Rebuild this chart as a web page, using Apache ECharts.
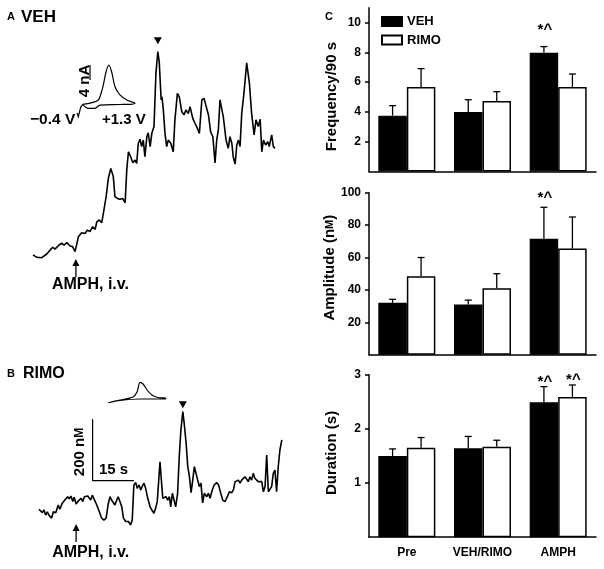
<!DOCTYPE html>
<html><head><meta charset="utf-8">
<script src="https://cdn.jsdelivr.net/npm/echarts@6/dist/echarts.min.js"></script>
<style>html,body{margin:0;padding:0;background:#fff}#c{width:604px;height:569px}</style>
</head><body><div id="c"></div>
<script>
// ---------- DATA ----------
const categories = ['Pre', 'VEH/RIMO', 'AMPH'];
const freqTicks = [2, 4, 6, 8, 10];
const ampTicks = [20, 40, 60, 80, 100];
const durTicks = [1, 2, 3];
const freqVEH = [3.75, 4.0, 7.98], freqVEHsem = [0.67, 0.82, 0.41];
const freqRIMO = [5.68, 4.74, 5.68], freqRIMOsem = [1.23, 0.62, 0.87];
const ampVEH = [32, 31, 71.5], ampVEHsem = [2.2, 2.7, 19.5];
const ampRIMO = [48.5, 41, 65.5], ampRIMOsem = [11.5, 9, 19.5];
const durVEH = [1.5, 1.64, 2.49], durVEHsem = [0.13, 0.22, 0.29];
const durRIMO = [1.65, 1.67, 2.59], durRIMOsem = [0.19, 0.12, 0.22];
const freqSigVEH = ['', '', '*^'], freqSigRIMO = ['', '', ''];
const ampSigVEH = ['', '', '*^'], ampSigRIMO = ['', '', ''];
const durSigVEH = ['', '', '*^'], durSigRIMO = ['', '', '*^'];

// DA traces: [time (s), concentration (nM)]
const traceVEH = [[0,10],[1.4,2],[3.2,1],[5,13],[6.4,28],[7.2,35],[8,29],[9.2,40],[10.4,48],[11.3,42],[12.3,50],[13.5,39],[14.4,37],[15.3,21],[15.6,15],[16.5,69],[17.7,82],[18.9,80],[19.8,91],[20.7,86],[21.7,102],[22.6,93],[23.2,118],[24.1,124],[25,115],[25.6,146],[26.6,200],[27.4,260],[28.3,292],[29.2,265],[29.8,200],[30.7,194],[31.6,191],[32.6,194],[33.5,180],[34.1,287],[34.7,346],[35.5,330],[36.3,310],[37.1,319],[37.7,308],[38.3,374],[38.9,387],[39.5,363],[40.1,384],[40.7,330],[41.4,395],[41.9,408],[42.6,363],[43.2,406],[44,428],[44.7,602],[45.4,672],[45.9,639],[46.6,515],[46.9,525],[47.4,482],[48,406],[48.6,363],[49.2,384],[50.1,374],[51,346],[51.6,449],[52.5,536],[53.2,525],[54.1,477],[54.9,466],[55.6,482],[56.5,471],[57.1,493],[58.1,455],[58.9,439],[59.8,422],[60.5,406],[61.4,515],[62.2,520],[62.9,515],[63.8,466],[64.6,411],[65.4,395],[66.2,310],[66.8,384],[67.4,417],[68,515],[68.6,520],[69.2,460],[70.2,384],[71,357],[71.6,395],[72.3,374],[72.8,330],[73.5,306],[74.1,368],[74.7,384],[75.3,363],[75.9,471],[76.7,536],[77.7,636],[78.7,569],[79.5,471],[80.4,401],[81.1,450],[81.9,428],[82.6,452],[83.2,346],[83.8,384],[84.6,368],[85.4,379],[85.9,363],[86.8,401],[87.4,363],[88,357]];
const traceRIMO = [[0,61],[0.6,56],[1.2,50],[1.8,59],[2.4,42],[3,53],[3.6,42],[4.3,48],[4.6,32],[5.2,53],[6.1,50],[7,75],[7.6,61],[8.4,80],[9.1,88],[9.7,82],[10.4,102],[11,95],[11.6,104],[12.3,86],[12.8,100],[13.5,78],[14.1,86],[14.7,80],[15.3,97],[15.9,86],[16.5,102],[17.1,97],[17.7,104],[18.3,107],[18.8,91],[19.4,107],[20.1,102],[21,75],[21.8,56],[22.8,32],[23.6,26],[24.4,32],[25.2,80],[25.8,102],[26.4,91],[27,86],[27.6,75],[28.3,91],[28.8,102],[29.5,107],[30.1,69],[30.7,32],[31.5,21],[32.5,21],[33.3,10],[33.9,26],[34.5,140],[35.2,148],[35.7,129],[36.4,140],[37,124],[37.6,137],[38.2,146],[38.8,129],[39.4,102],[40.4,69],[41.2,56],[41.8,48],[42.4,64],[43,86],[43.6,91],[44,216],[44.5,156],[45,97],[45.6,91],[46.2,102],[46.8,91],[47.4,102],[47.9,69],[48.5,113],[49.1,91],[49.7,69],[50.4,113],[51,232],[51.6,319],[52.3,379],[52.8,341],[53.5,276],[54.1,200],[54.7,167],[55.3,115],[55.9,156],[56.5,200],[57.1,200],[57.7,156],[58.3,135],[58.9,146],[59.5,82],[60.1,113],[61,102],[61.6,113],[62.2,97],[63,124],[63.7,140],[64.6,148],[65.3,140],[66.1,113],[66.8,91],[67.6,86],[68.5,102],[69.2,118],[70.1,115],[70.7,124],[71.3,151],[71.9,146],[72.5,156],[73.1,146],[73.7,156],[74.3,151],[74.9,167],[75.5,162],[76.1,151],[76.7,167],[77.3,156],[77.9,178],[78.5,162],[79.2,167],[79.7,151],[80.4,156],[81,151],[81.6,118],[82.2,135],[82.8,238],[83.4,118],[84,118],[84.6,135],[85.2,178],[85.8,189],[86.4,118],[87,200],[87.6,254],[88.3,287]];
// cyclic voltammograms (inset): [potential (V), current (nA)]
const cvVEH = [[-0.4,0],[-0.23,0.2],[-0.07,0.5],[0.11,1.15],[0.19,2.75],[0.27,5.15],[0.36,8.7],[0.45,10.5],[0.54,8.7],[0.65,4.7],[0.81,2.5],[1.03,1.15],[1.3,0.27],[1.14,0],[0.81,-0.05],[0.16,-0.2],[0.0,-1.07],[-0.22,-1.07],[-0.4,0]];
const cvRIMO = [[-0.4,-1.0],[-0.05,-0.27],[0.33,0.53],[0.45,1.87],[0.54,4.46],[0.63,4.0],[0.75,2.4],[0.89,1.07],[1.07,0.4],[1.3,0.27],[1.3,0],[0.54,0],[-0.05,-0.4],[-0.4,-1.0]];
const amphTimeVEH = 15.6, amphTimeRIMO = 13.5;
const SCALE_T = 15, SCALE_C = 200, scaleT0 = 19.5, scaleC0 = 154;

// ---------- CHART ----------
const FF = 'Liberation Sans, Arial, sans-serif';
const BAR_W = 28.5;
const chart = echarts.init(document.getElementById('c'), null, {renderer: 'canvas'});

function errRender(means, sems, sigs, side, gap) {
  return function (params, api) {
    const i = params.dataIndex;
    const c0 = api.coord([i, means[i]]);
    const c1 = api.coord([i, means[i] + sems[i]]);
    const x = c0[0] + side * BAR_W / 2;
    const st = {stroke: '#000', lineWidth: 1.3};
    const ch = [
      {type: 'line', shape: {x1: x, y1: c0[1], x2: x, y2: c1[1]}, style: st},
      {type: 'line', shape: {x1: x - 3.5, y1: c1[1], x2: x + 3.5, y2: c1[1]}, style: st}
    ];
    if (sigs[i]) ch.push({type: 'text', style: {text: sigs[i], x: x + 1, y: c1[1] - gap, align: 'center', verticalAlign: 'middle', fontSize: 15, fontWeight: 'bold', fontFamily: FF, fill: '#000'}});
    return {type: 'group', children: ch};
  };
}

const barGrids = [
  {top: 7.8, height: 163.6},
  {top: 192.7, height: 162},
  {top: 374.7, height: 162.5}
];
const panels = [
  {name: 'Frequency/90 s', max: 11, ticks: freqTicks, v: freqVEH, vs: freqVEHsem, r: freqRIMO, rs: freqRIMOsem, sv: freqSigVEH, sr: freqSigRIMO, gap: 17, pad: [0, 14, 0, 0]},
  {name: 'Amplitude (n{sc|M})', max: 100, ticks: ampTicks, v: ampVEH, vs: ampVEHsem, r: ampRIMO, rs: ampRIMOsem, sv: ampSigVEH, sr: ampSigRIMO, gap: 9, pad: [0, 0, 0, 12]},
  {name: 'Duration (s)', max: 3, ticks: durTicks, v: durVEH, vs: durVEHsem, r: durRIMO, rs: durRIMOsem, sv: durSigVEH, sr: durSigRIMO, gap: 5, pad: [0, 0, 0, 6]}
];

const grid = [
  {left: 33, top: 43.1, width: 242, height: 214.9},
  {left: 39, top: 405.2, width: 244.75, height: 122.8},
  {left: 82.7, top: 59.4, width: 52.3, height: 52.4},
  {left: 108.3, top: 376.5, width: 57.4, height: 30}
];
const xAxis = [
  {gridIndex: 0, type: 'value', min: 0, max: 88, show: false},
  {gridIndex: 1, type: 'value', min: 0, max: 89, show: false},
  {gridIndex: 2, type: 'value', min: -0.4, max: 1.3, show: false},
  {gridIndex: 3, type: 'value', min: -0.4, max: 1.3, show: false}
];
const yAxis = [
  {gridIndex: 0, type: 'value', min: 0, max: 700, show: false},
  {gridIndex: 1, type: 'value', min: 0, max: 400, show: false},
  {gridIndex: 2, type: 'value', min: -2, max: 12, show: false},
  {gridIndex: 3, type: 'value', min: -2, max: 6, show: false}
];
const lineBlack = {color: '#000', width: 1.6};
const series = [
  {type: 'line', xAxisIndex: 0, yAxisIndex: 0, data: traceVEH, showSymbol: false, lineStyle: lineBlack, itemStyle: {color: '#000'},
   markPoint: {symbol: 'triangle', symbolRotate: 180, symbolSize: [8, 7], symbolOffset: [0, -11], itemStyle: {color: '#000'}, label: {show: false},
     data: [{coord: traceVEH.reduce((a, b) => b[1] > a[1] ? b : a)}]}},
  {type: 'line', xAxisIndex: 1, yAxisIndex: 1, data: traceRIMO, showSymbol: false, lineStyle: lineBlack, itemStyle: {color: '#000'},
   markPoint: {symbol: 'triangle', symbolRotate: 180, symbolSize: [8, 7], symbolOffset: [0, -7], itemStyle: {color: '#000'}, label: {show: false},
     data: [{coord: traceRIMO.reduce((a, b) => b[1] > a[1] ? b : a)}]}},
  {type: 'line', xAxisIndex: 1, yAxisIndex: 1, data: [[scaleT0, scaleC0 + SCALE_C], [scaleT0, scaleC0], [scaleT0 + SCALE_T, scaleC0]], showSymbol: false, lineStyle: {color: '#000', width: 1.2}},
  {type: 'line', xAxisIndex: 2, yAxisIndex: 2, data: cvVEH, showSymbol: false, smooth: 0.3, lineStyle: {color: '#000', width: 1.2}},
  {type: 'line', xAxisIndex: 3, yAxisIndex: 3, data: cvRIMO, showSymbol: false, smooth: 0.3, lineStyle: {color: '#000', width: 1.2}}
];

panels.forEach((p, k) => {
  const gi = 4 + k;
  grid.push({left: 369, right: 8, top: barGrids[k].top, height: barGrids[k].height});
  xAxis.push({gridIndex: gi, type: 'category', data: categories,
    axisLine: {lineStyle: {color: '#000', width: 1.5}},
    axisTick: {alignWithLabel: true, length: 4, lineStyle: {color: '#000', width: 1.5}},
    axisLabel: {show: k === 2, interval: 0, color: '#000', fontSize: 12, fontWeight: 'bold', fontFamily: FF, margin: 9}});
  yAxis.push({gridIndex: gi, type: 'value', min: 0, max: p.max,
    name: p.name, nameLocation: 'middle', nameGap: 30, nameRotate: 90,
    nameTextStyle: {color: '#000', fontSize: 15, fontWeight: 'bold', fontFamily: FF, padding: p.pad, rich: {sc: {fontSize: 11, fontWeight: 'bold', fontFamily: FF, color: '#000'}}},
    axisLine: {show: true, lineStyle: {color: '#000', width: 1.5}},
    axisTick: {show: true, length: 4, customValues: p.ticks, lineStyle: {color: '#000', width: 1.5}},
    splitLine: {show: false},
    axisLabel: {color: '#000', fontSize: 12, fontWeight: 'bold', fontFamily: FF, margin: 8, customValues: p.ticks}});
  series.push(
    {type: 'bar', name: 'VEH', xAxisIndex: gi, yAxisIndex: gi, data: p.v, barWidth: BAR_W, barGap: '0%', itemStyle: {color: '#000', borderColor: '#000', borderWidth: 1.2}},
    {type: 'bar', name: 'RIMO', xAxisIndex: gi, yAxisIndex: gi, data: p.r, barWidth: BAR_W, barGap: '0%', itemStyle: {color: '#fff', borderColor: '#000', borderWidth: 1.5}},
    {type: 'custom', name: 'errV' + k, xAxisIndex: gi, yAxisIndex: gi, data: p.v.map((m, i) => [i, m]), renderItem: errRender(p.v, p.vs, p.sv, -1, p.gap), z: 5},
    {type: 'custom', name: 'errR' + k, xAxisIndex: gi, yAxisIndex: gi, data: p.r.map((m, i) => [i, m]), renderItem: errRender(p.r, p.rs, p.sr, 1, p.gap), z: 5}
  );
});

chart.setOption({
  animation: false,
  backgroundColor: '#fff',
  textStyle: {fontFamily: FF},
  legend: {data: ['VEH', 'RIMO'], orient: 'vertical', left: 381, top: 15, padding: 0, itemWidth: 20, itemHeight: 9, itemGap: 5.5, icon: 'rect',
    textStyle: {color: '#000', fontSize: 13, fontWeight: 'bold', fontFamily: FF}},
  grid, xAxis, yAxis, series
});

const ax = chart.convertToPixel({gridIndex: 0}, [amphTimeVEH, 0])[0];
const bx = chart.convertToPixel({gridIndex: 1}, [amphTimeRIMO, 0])[0];
const T = (text, x, y, size, extra) => Object.assign({type: 'text', x, y, style: Object.assign({text, fill: '#000', fontSize: size, fontWeight: 'bold', fontFamily: FF, verticalAlign: 'middle'}, extra || {})});
function arrow(x, y0, y1) {
  return [
    {type: 'line', shape: {x1: x, y1: y0 + 5, x2: x, y2: y1}, style: {stroke: '#000', lineWidth: 1.3}},
    {type: 'polygon', shape: {points: [[x - 3.5, y0 + 7], [x, y0], [x + 3.5, y0 + 7]]}, style: {fill: '#000'}}
  ];
}
chart.setOption({
  graphic: [
    T('A', 7, 17, 11), T('VEH', 21, 17, 17),
    T('B', 7, 374, 11), T('RIMO', 23, 374, 16),
    T('C', 325, 17, 11),
    T('AMPH, i.v.', ax - 24, 285, 16), ...arrow(ax, 259, 277),
    T('AMPH, i.v.', bx - 24, 553, 16), ...arrow(bx, 524, 542),
    T('\u22120.4 V', 30, 120, 15.5), T('+1.3 V', 102, 120, 15),
    {type: 'polyline', shape: {points: [[77, 113], [78.3, 116.7], [80.7, 107.3], [82.7, 104.3]]}, style: {stroke: '#000', lineWidth: 1.2, fill: null}},
    {type: 'text', x: 84.7, y: 81, rotation: Math.PI / 2, style: {text: '4 nA', fill: '#000', fontSize: 15, fontWeight: 'bold', fontFamily: FF, align: 'center', verticalAlign: 'middle'}},
    {type: 'line', shape: {x1: 90, y1: 65, x2: 90, y2: 80}, style: {stroke: '#000', lineWidth: 1.2}},
    {type: 'text', x: 80, y: 452, rotation: Math.PI / 2, style: {text: '200 n{sc|M}', rich: {sc: {fontSize: 12, fontWeight: 'bold', fontFamily: FF, fill: '#000'}}, fill: '#000', fontSize: 15, fontWeight: 'bold', fontFamily: FF, align: 'center', verticalAlign: 'middle'}},
    T('15 s', 99, 470, 15)
  ]
});
</script></body></html>
